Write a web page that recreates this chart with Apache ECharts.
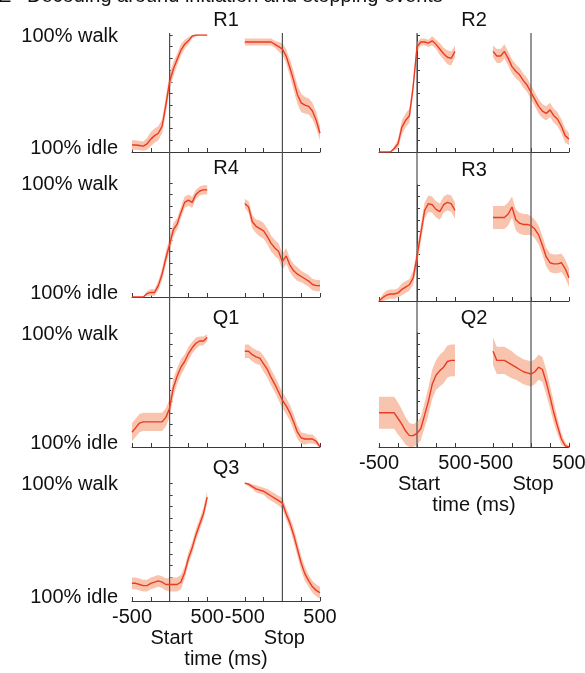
<!DOCTYPE html>
<html>
<head>
<meta charset="utf-8">
<script src="https://cdn.jsdelivr.net/npm/echarts@6/dist/echarts.min.js"></script>
<style>
  html, body { margin: 0; padding: 0; background: #ffffff; }
  #chart { width: 585px; height: 673px; }
</style>
</head>
<body>
<div id="chart"></div>
<script>
// Sample times (ms) relative to the start / stop event
const timeMs = [-500,-450,-400,-350,-300,-250,-200,-150,-100,-50,0,50,100,150,200,250,300,350,400,450,500];
// The stop window is drawn on the same axis, shifted right
const STOP_OFFSET = 1500;

// Decoded state: 0 = 100% idle, 100 = 100% walk; *Err = half-width of the shaded band
const r1StartMean = [6,6,5.5,5,7,11,14,16,22,40,60,71,79,87,92,95,99,100,100,100,100];
const r1StartErr  = [4,4,4,4,5,6,6,6,6,7,7,6,5,5,4,3,2,1,0,0,0];
const r1StopMean  = [94,94,94,94,94,94,94,94,92,90,88,82,72,61,49,42,40,39,35,27,16];
const r1StopErr   = [3,3,3,3,3,3,3,3,3,4,5,6,7,8,8,8,7,7,7,7,6];

const r2StartMean = [0,0,0,0,3,7,21,27,31,56,90,94,94,93,95,92,88,84,81,80,86];
const r2StartErr  = [0,0,0,0,2,4,6,6,6,6,4,3,3,3,4,4,5,5,6,6,5];
const r2StopMean  = [86,82,82,86,80,73,69,66,61,57,51,45,39,35,33,36,31,28,22,14,11];
const r2StopErr   = [5,6,6,6,6,6,6,6,6,6,6,6,6,6,6,6,6,6,6,6,5];

const r4StartMean = [0,0,0,0,3,4,4,10,20,34,46,59,64,74,83,85,83,90,93,94,94];
const r4StartErr  = [0,0,0,0,2,3,3,4,5,6,6,6,5,5,5,5,5,4,4,4,4];
const r4StopMean  = [82,79,66,62,60,58,53,47,43,40,31,36,28,23,20,18,16,14,11,10,10];
const r4StopErr   = [4,5,6,6,7,7,7,7,7,7,7,7,6,6,6,5,5,5,5,5,5];

const r3StartMean = [0,3,5,6,6,7,10,12,14,20,38,58,78,84,83,79,77,83,85,84,78];
const r3StartErr  = [0,3,4,4,4,4,5,5,5,6,7,7,7,7,7,7,7,7,7,7,7];
const r3StopMean  = [72,72,72,72,75,81,70,67,66,66,65,62,57,48,38,33,32,32,33,28,20];
const r3StopErr   = [10,10,10,10,10,9,9,9,9,9,8,8,8,8,8,8,8,8,8,8,8];

const q1StartMean = [13,17,21,22,22,22,22,22,22,26,34,52,62,70,75,82,87,91,93,93,96];
const q1StartErr  = [8,8,8,8,8,8,8,8,8,8,8,8,7,7,6,6,5,5,4,4,3];
const q1StopMean  = [84,84,81,79,78,73,68,61,55,48,41,36,30,22,13,8,7,7,7,5,0];
const q1StopErr   = [6,6,6,6,6,7,7,7,7,7,7,7,7,7,6,5,5,4,4,3,2];

const q2StartMean = [30,30,30,30,30,25,20,14,10,10,12,16,28,40,55,63,67,70,75,76,76];
const q2StartErr  = [14,14,14,14,14,14,13,12,11,10,10,10,11,12,13,13,14,14,14,14,14];
const q2StopMean  = [84,76,76,76,74,72,70,68,66,65,64,66,70,68,57,44,30,18,7,1,0];
const q2StopErr   = [12,12,12,12,12,12,11,11,11,11,11,11,11,11,11,10,9,7,5,3,1];

const q3StartMean = [15,15,14,13,13,15,16,17,16,14,14,14,14,16,24,36,45,56,65,74,88];
const q3StartErr  = [5,5,5,5,5,5,5,5,5,5,6,6,6,6,5,5,5,5,5,5,5];
const q3StopMean  = [100,99,97,95,94,93,91,89,87,85,83,74,66,56,44,32,23,17,12,9,7];
const q3StopErr   = [1,2,2,3,3,3,4,4,4,4,5,5,5,6,6,6,6,5,5,5,5];

// Axis ticks and labels
const xTickValues  = [-500,-250,0,250,500,1000,1250,1500,1750,2000];
const xLabelValues = [-500,500,1000,2000];
const xLabelText   = { '-500': '-500', '500': '500', '1000': '-500', '2000': '500' };
const eventNames   = ['Start', 'Stop'];
const yLabelWalk   = '100% walk';
const yLabelIdle   = '100% idle';
const headerText   = 'Decoding around initiation and stopping events';
const panelTag     = 'E';

const FONT = '"Liberation Sans", Arial, Helvetica, sans-serif';
const TEXT_COLOR = '#111111';
const AXIS_COLOR = '#3a3a3a';
const LINE_COLOR = '#ec3b24';
const BAND_COLOR = '#f9c4ad';
const EVENT_COLOR = '#505050';

// Panel layout: column 0 = left, column 1 = right
const panels = [
  { name: 'R1', col: 0, top: 35,  height: 117, start: [r1StartMean, r1StartErr], stop: [r1StopMean, r1StopErr] },
  { name: 'R4', col: 0, top: 183, height: 114, start: [r4StartMean, r4StartErr], stop: [r4StopMean, r4StopErr] },
  { name: 'Q1', col: 0, top: 333, height: 114, start: [q1StartMean, q1StartErr], stop: [q1StopMean, q1StopErr] },
  { name: 'Q3', col: 0, top: 483, height: 118, start: [q3StartMean, q3StartErr], stop: [q3StopMean, q3StopErr], bottom: true },
  { name: 'R2', col: 1, top: 35,  height: 117, start: [r2StartMean, r2StartErr], stop: [r2StopMean, r2StopErr] },
  { name: 'R3', col: 1, top: 185, height: 116, start: [r3StartMean, r3StartErr], stop: [r3StopMean, r3StopErr] },
  { name: 'Q2', col: 1, top: 333, height: 114, start: [q2StartMean, q2StartErr], stop: [q2StopMean, q2StopErr], bottom: true }
];
const columns = [ { left: 132, width: 188 }, { left: 379, width: 190 } ];

function bandSeries(idx, mean, err, offset) {
  const pts = timeMs.map((t, i) => [t + offset, Math.max(0, mean[i] - err[i]), Math.min(100, mean[i] + err[i])]);
  return {
    type: 'custom', xAxisIndex: idx, yAxisIndex: idx, z: 1, silent: true,
    data: pts,
    encode: { x: 0, y: [1, 2] },
    renderItem(params, api) {
      if (params.dataIndex !== 0) return null;
      const upper = pts.map(p => api.coord([p[0], p[2]]));
      const lower = pts.map(p => api.coord([p[0], p[1]])).reverse();
      return { type: 'polygon', shape: { points: upper.concat(lower) }, style: { fill: BAND_COLOR, stroke: null } };
    }
  };
}

function lineSeries(idx, mean, offset) {
  return {
    type: 'line', xAxisIndex: idx, yAxisIndex: idx, z: 5, silent: true,
    showSymbol: false, symbol: 'none',
    lineStyle: { color: LINE_COLOR, width: 1.4 },
    data: timeMs.map((t, i) => [t + offset, mean[i]])
  };
}

const grids = [], xAxes = [], yAxes = [], series = [];
panels.forEach((p, i) => {
  const c = columns[p.col];
  grids.push({ left: c.left, width: c.width, top: p.top, height: p.height, containLabel: false, outerBoundsMode: 'none' });
  xAxes.push({
    type: 'value', gridIndex: i, min: -500, max: 2000,
    name: p.bottom ? 'time (ms)' : '',
    nameLocation: 'middle', nameGap: 48,
    nameTextStyle: { fontSize: 20, color: TEXT_COLOR, fontFamily: FONT },
    axisLine: { show: true, onZero: false, lineStyle: { color: AXIS_COLOR, width: 1 } },
    axisTick: { show: true, inside: true, length: 4, customValues: xTickValues, lineStyle: { color: AXIS_COLOR } },
    axisLabel: {
      show: !!p.bottom, customValues: xLabelValues, margin: 6,
      showMinLabel: true, showMaxLabel: true, hideOverlap: false,
      fontSize: 20, color: TEXT_COLOR, fontFamily: FONT,
      formatter: v => xLabelText[String(v)] || ''
    },
    splitLine: { show: false }
  });
  yAxes.push({
    type: 'value', gridIndex: i, min: 0, max: 100, interval: 10,
    axisLine: { show: true, lineStyle: { color: AXIS_COLOR, width: 1 } },
    axisTick: { show: true, inside: true, length: 3, lineStyle: { color: AXIS_COLOR } },
    axisLabel: { show: false },
    splitLine: { show: false }
  });
  series.push(bandSeries(i, p.start[0], p.start[1], 0));
  series.push(bandSeries(i, p.stop[0], p.stop[1], STOP_OFFSET));
  series.push(lineSeries(i, p.start[0], 0));
  series.push(lineSeries(i, p.stop[0], STOP_OFFSET));
});

const chart = echarts.init(document.getElementById('chart'), null, { renderer: 'canvas' });
chart.setOption({
  animation: false,
  backgroundColor: '#ffffff',
  textStyle: { fontFamily: FONT },
  grid: grids, xAxis: xAxes, yAxis: yAxes, series: series
});

// Event lines through each column, event names, panel titles, state labels and the header
const elements = [];
[0, 1].forEach(col => {
  const idx = panels.map((p, i) => i).filter(i => panels[i].col === col);
  const first = idx[0], last = idx[idx.length - 1];
  [0, STOP_OFFSET].forEach((ev, k) => {
    const top = chart.convertToPixel({ gridIndex: first }, [ev, 100]);
    const bot = chart.convertToPixel({ gridIndex: last }, [ev, 0]);
    elements.push({
      type: 'line', z: 3, silent: true,
      shape: { x1: top[0], y1: top[1] - 2, x2: bot[0], y2: bot[1] },
      style: { stroke: EVENT_COLOR, lineWidth: 1.2 }
    });
    elements.push({
      type: 'text', z: 10, silent: true, x: bot[0] + 2, y: bot[1] + 37,
      style: { text: eventNames[k], fontSize: 20, fontFamily: FONT, fill: TEXT_COLOR, align: 'center', verticalAlign: 'middle' }
    });
  });
});
panels.forEach((p, i) => {
  const topLeft = chart.convertToPixel({ gridIndex: i }, [-500, 100]);
  const botLeft = chart.convertToPixel({ gridIndex: i }, [-500, 0]);
  const right = chart.convertToPixel({ gridIndex: i }, [2000, 100]);
  elements.push({
    type: 'text', z: 10, silent: true,
    x: (topLeft[0] + right[0]) / 2, y: topLeft[1] - 15,
    style: { text: p.name, fontSize: 20, fontFamily: FONT, fill: TEXT_COLOR, align: 'center', verticalAlign: 'middle' }
  });
  if (p.col === 0) {
    elements.push({ type: 'text', z: 10, silent: true, x: topLeft[0] - 14, y: topLeft[1] + 1,
      style: { text: yLabelWalk, fontSize: 20, fontFamily: FONT, fill: TEXT_COLOR, align: 'right', verticalAlign: 'middle' } });
    elements.push({ type: 'text', z: 10, silent: true, x: botLeft[0] - 14, y: botLeft[1] - 4,
      style: { text: yLabelIdle, fontSize: 20, fontFamily: FONT, fill: TEXT_COLOR, align: 'right', verticalAlign: 'middle' } });
  }
});
elements.push({ type: 'text', z: 10, silent: true, x: -2, y: -4,
  style: { text: panelTag, fontSize: 20, fontFamily: FONT, fill: TEXT_COLOR, verticalAlign: 'middle' } });
elements.push({ type: 'text', z: 10, silent: true, x: 27, y: -4,
  style: { text: headerText, fontSize: 20, fontFamily: FONT, fill: TEXT_COLOR, verticalAlign: 'middle' } });
chart.setOption({ graphic: { elements: elements } });
</script>
</body>
</html>
